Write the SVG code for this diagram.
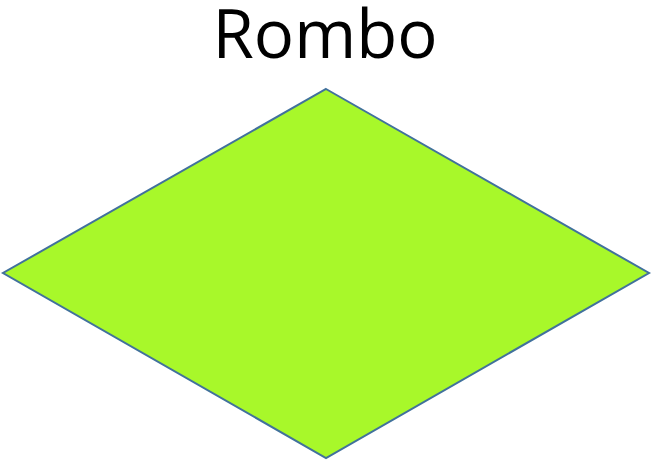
<svg xmlns="http://www.w3.org/2000/svg" width="652" height="460" viewBox="0 0 652 460">
<style>
.title{font-family:"Open Sans","Liberation Sans",sans-serif;font-size:67px;fill:#000;text-anchor:middle}
.shape{fill:#A8F82A;stroke:#41719C;stroke-width:2}
</style>
<rect width="652" height="460" fill="#fff"/>
<text class="title" x="325" y="58">Rombo</text>
<g id="rombo">
<polygon class="shape" points="326,89 649,273 326,458 3,273"/>
</g>
<g id="connectors"/>
</svg>
